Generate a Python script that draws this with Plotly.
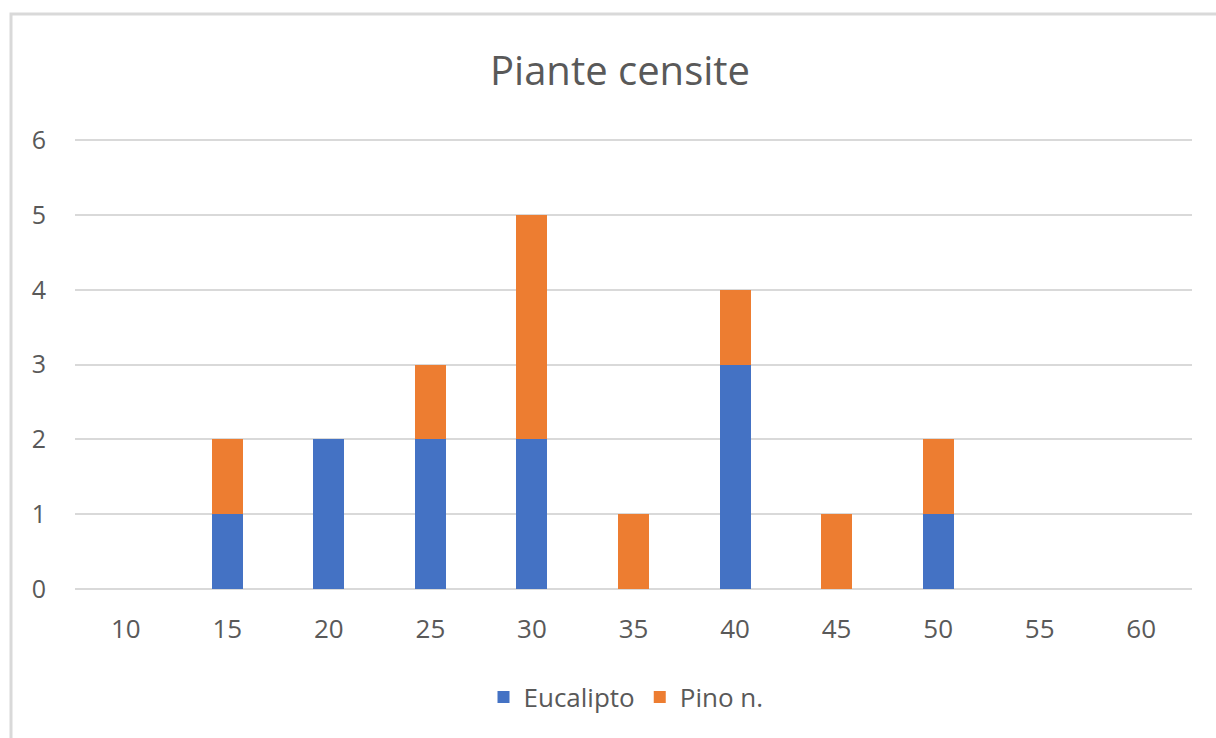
import plotly.graph_objects as go

# Diameter classes and counts per species
classi = ["10", "15", "20", "25", "30", "35", "40", "45", "50", "55", "60"]
eucalipto = [0, 1, 2, 2, 2, 0, 3, 0, 1, 0, 0]
pino = [0, 1, 0, 1, 3, 1, 1, 1, 1, 0, 0]

W, H = 1216, 738
L, R, T, B = 75, 24, 139, 149
PW, PH = W - L - R, H - T - B
FONT = "'Open Sans', sans-serif"
GREY = "#595959"

fig = go.Figure()
fig.add_trace(go.Bar(x=classi, y=eucalipto, name="Eucalipto",
                     marker=dict(color="#4472C4", line=dict(width=0))))
fig.add_trace(go.Bar(x=classi, y=pino, name="Pino n.",
                     marker=dict(color="#ED7D31", line=dict(width=0))))

fig.update_layout(
    width=W, height=H,
    barmode="stack",
    bargap=0.695,
    paper_bgcolor="white",
    plot_bgcolor="white",
    margin=dict(l=L, r=R, t=T, b=B),
    title=dict(text="Piante censite", xref="paper", x=(620 - L) / PW,
               xanchor="center", y=1 - 71 / H, yanchor="middle",
               font=dict(family=FONT, size=40, color=GREY)),
    font=dict(family=FONT, color=GREY),
    legend=dict(orientation="h", x=(626 - L) / PW, xanchor="center",
                y=-(697 - (H - B)) / PH, yanchor="middle",
                font=dict(family=FONT, size=26, color=GREY),
                itemwidth=30, traceorder="normal"),
    showlegend=True,
)
fig.update_xaxes(showgrid=False, showline=False, zeroline=False,
                 ticks="", tickfont=dict(family=FONT, size=26, color=GREY),
                 ticklabelstandoff=22)
fig.update_yaxes(range=[0, 6.015], dtick=1, showgrid=True, gridcolor="#d9d9d9",
                 gridwidth=1.5, zeroline=True, zerolinecolor="#d9d9d9",
                 zerolinewidth=1.5, showline=False, ticks="",
                 tickfont=dict(family=FONT, size=25, color=GREY),
                 ticklabelstandoff=28)

# Chart frame
fig.add_shape(type="rect", xref="paper", yref="paper",
              x0=-(L - 11) / PW, x1=1 + 40 / PW,
              y0=-200 / PH, y1=1 + (T - 14) / PH,
              line=dict(color="#d9d9d9", width=3), fillcolor="rgba(0,0,0,0)",
              layer="below")

fig.write_html("out.html")
